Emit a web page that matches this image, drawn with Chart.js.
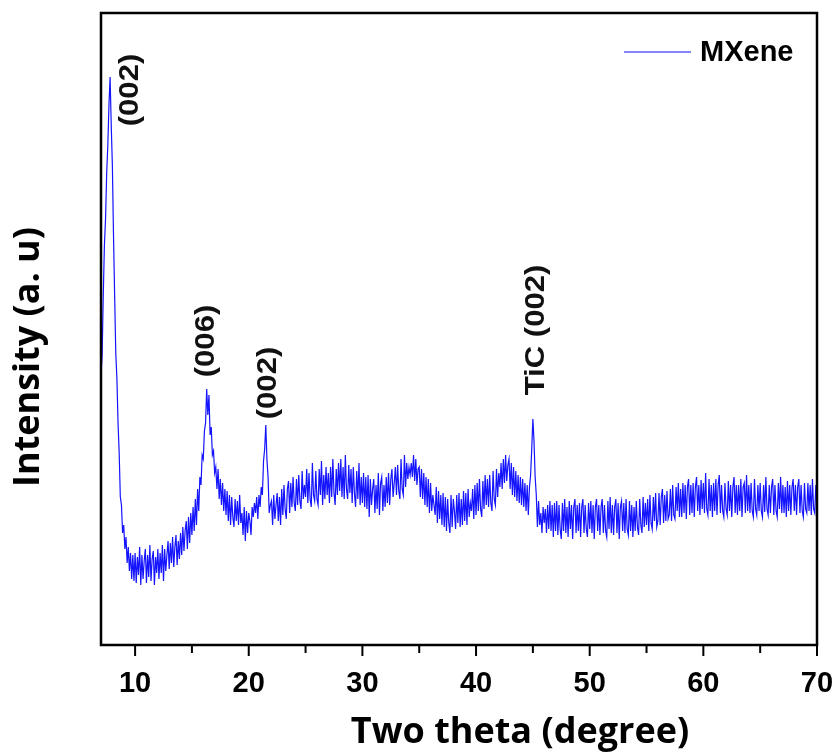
<!DOCTYPE html>
<html>
<head>
<meta charset="utf-8">
<script src="https://cdn.jsdelivr.net/npm/chart.js@4"></script>
<style>
  html, body { margin: 0; padding: 0; background: #fff; }
</style>
</head>
<body>
<canvas id="xrdChart" width="836" height="755"></canvas>
<script>
// XRD pattern, MXene (step 0.1 deg from 7 to 70)
const thetaStart = 7;
const thetaStep = 0.1;
const intensity = [
  270, 290, 350, 400, 426, 472, 500, 540, 568, 520,
  480, 410, 350, 292, 266, 222, 192, 148, 140, 112,
  120, 96, 108, 82, 98, 74, 92, 66, 90, 64,
  92, 62, 88, 70, 98, 60, 90, 66, 84, 96,
  62, 90, 68, 100, 64, 86, 94, 60, 88, 72,
  96, 66, 92, 72, 100, 64, 96, 74, 90, 104,
  76, 102, 82, 108, 78, 98, 110, 80, 104, 86,
  112, 90, 118, 94, 114, 124, 96, 128, 102, 132,
  110, 138, 114, 146, 120, 156, 134, 168, 160, 190,
  186, 214, 222, 256, 230, 250, 210, 218, 190, 194,
  172, 178, 156, 176, 146, 166, 140, 162, 134, 156,
  130, 154, 124, 150, 120, 148, 128, 118, 146, 124,
  144, 120, 150, 122, 132, 110, 138, 104, 134, 112,
  132, 124, 110, 138, 128, 142, 132, 148, 126, 150,
  138, 158, 150, 184, 196, 220, 186, 168, 132, 140,
  144, 120, 150, 126, 140, 152, 124, 148, 120, 156,
  130, 160, 136, 126, 156, 164, 132, 162, 138, 168,
  142, 134, 166, 140, 170, 144, 136, 174, 146, 160,
  148, 176, 142, 172, 146, 138, 182, 150, 144, 174,
  146, 140, 176, 150, 184, 140, 170, 146, 178, 150,
  172, 142, 178, 148, 186, 152, 140, 176, 150, 182,
  154, 186, 148, 178, 146, 190, 156, 146, 180, 152,
  176, 142, 178, 152, 138, 174, 146, 182, 140, 168,
  142, 172, 138, 168, 136, 170, 128, 166, 140, 156,
  166, 132, 160, 136, 172, 130, 162, 168, 134, 160,
  138, 168, 142, 172, 140, 166, 176, 148, 162, 178,
  150, 180, 154, 146, 186, 156, 150, 190, 158, 182,
  166, 178, 170, 182, 168, 190, 164, 186, 160, 176,
  178, 148, 176, 146, 172, 140, 168, 138, 166, 132,
  162, 134, 150, 140, 130, 158, 122, 154, 126, 150,
  120, 152, 118, 148, 114, 146, 122, 112, 150, 118,
  146, 134, 116, 150, 122, 152, 118, 146, 120, 154,
  124, 152, 120, 156, 128, 142, 134, 156, 126, 160,
  130, 162, 134, 166, 136, 128, 164, 136, 170, 140,
  166, 138, 170, 142, 134, 174, 146, 140, 176, 148,
  172, 158, 182, 156, 186, 162, 190, 164, 180, 186,
  156, 182, 150, 178, 148, 174, 144, 170, 142, 168,
  140, 166, 138, 162, 134, 160, 130, 158, 170, 196,
  226, 204, 168, 150, 118, 144, 120, 132, 112, 138,
  122, 136, 112, 140, 116, 144, 114, 140, 108, 142,
  114, 144, 110, 140, 116, 106, 142, 114, 146, 112,
  138, 108, 144, 116, 140, 106, 138, 146, 112, 140,
  114, 142, 108, 138, 146, 112, 140, 116, 108, 142,
  116, 144, 112, 140, 106, 138, 146, 114, 140, 110,
  138, 146, 112, 140, 114, 108, 144, 116, 148, 112,
  140, 110, 138, 146, 112, 142, 106, 138, 144, 114,
  142, 112, 146, 116, 110, 144, 114, 140, 108, 138,
  114, 144, 118, 110, 146, 120, 112, 148, 118, 142,
  120, 146, 114, 150, 122, 116, 148, 124, 152, 118,
  124, 152, 120, 148, 156, 122, 150, 124, 154, 126,
  130, 156, 124, 160, 130, 126, 158, 134, 162, 128,
  156, 128, 162, 132, 160, 126, 158, 166, 130, 160,
  132, 162, 128, 158, 168, 134, 160, 130, 165, 136,
  162, 132, 172, 136, 130, 166, 134, 160, 128, 162,
  134, 166, 130, 160, 170, 132, 160, 134, 128, 162,
  136, 130, 164, 134, 160, 128, 158, 168, 132, 160,
  130, 160, 134, 166, 128, 158, 162, 132, 170, 134,
  160, 132, 162, 134, 128, 166, 136, 130, 160, 134,
  162, 134, 128, 160, 133, 168, 136, 130, 160, 132,
  158, 166, 130, 160, 134, 128, 162, 136, 168, 132,
  160, 132, 158, 128, 164, 134, 160, 130, 158, 166,
  134, 160, 130, 158, 166, 132, 160, 134, 128, 162,
  136, 132, 162, 134, 160, 130, 166, 136, 132, 160,
  146
];

const xTicks = [10, 20, 30, 40, 50, 60, 70];
const minorTicks = [15, 25, 35, 45, 55, 65];

// peak labels: text, two-theta, intensity level of label centre
const peakLabels = ['(002)', '(006)', '(002)', 'TiC (002)'];
const peakTheta = [9.64, 16.33, 21.78, 45.36];
const peakLabelLevel = [555, 304, 262, 315];

const points = intensity.map((v, i) => ({ x: +(thetaStart + i * thetaStep).toFixed(2), y: v }));

const boldSans = '"Liberation Sans", Arial, sans-serif';

const decor = {
  id: 'decor',
  afterDatasetsDraw(chart) {
    const { ctx, chartArea: a, scales: { x, y } } = chart;
    ctx.save();

    // frame
    ctx.strokeStyle = '#000';
    ctx.lineWidth = 2.5;
    ctx.strokeRect(a.left, a.top, a.right - a.left, a.bottom - a.top);

    // tick marks (outside, below)
    ctx.lineWidth = 2;
    ctx.beginPath();
    xTicks.forEach(v => {
      const px = x.getPixelForValue(v);
      ctx.moveTo(px, a.bottom); ctx.lineTo(px, a.bottom + 11);
    });
    minorTicks.forEach(v => {
      const px = x.getPixelForValue(v);
      ctx.moveTo(px, a.bottom); ctx.lineTo(px, a.bottom + 8);
    });
    ctx.stroke();

    // rotated peak labels
    ctx.fillStyle = '#111';
    ctx.font = 'bold 27px ' + boldSans;
    ctx.textAlign = 'center';
    ctx.textBaseline = 'middle';
    peakLabels.forEach((t, i) => {
      ctx.save();
      ctx.translate(x.getPixelForValue(peakTheta[i]), y.getPixelForValue(peakLabelLevel[i]));
      ctx.rotate(-Math.PI / 2);
      ctx.scale(1.15, 1);
      ctx.fillText(t, 0, 0);
      ctx.restore();
    });

    // legend
    ctx.strokeStyle = '#5a5aff';
    ctx.lineWidth = 1.5;
    ctx.beginPath();
    ctx.moveTo(a.right - 193, a.top + 39);
    ctx.lineTo(a.right - 126, a.top + 39);
    ctx.stroke();
    ctx.fillStyle = '#000';
    ctx.font = 'bold 29px ' + boldSans;
    ctx.textAlign = 'left';
    ctx.fillText(chart.data.datasets[0].label, a.right - 117, a.top + 40);

    // axis titles
    ctx.font = 'bold 36px "Open Sans", sans-serif';
    ctx.textAlign = 'center';
    ctx.fillText('Two theta (degree)', 520, 733);
    ctx.save();
    ctx.translate(29, 357);
    ctx.rotate(-Math.PI / 2);
    ctx.fillText('Intensity (a. u)', 0, 0);
    ctx.restore();

    ctx.restore();
  }
};

new Chart(document.getElementById('xrdChart'), {
  type: 'line',
  data: {
    datasets: [{
      label: 'MXene',
      data: points,
      borderColor: '#1414ff',
      borderWidth: 1.2,
      pointRadius: 0,
      tension: 0,
      fill: false
    }]
  },
  options: {
    responsive: false,
    animation: false,
    layout: { padding: { left: 101, right: 19, top: 13, bottom: 0 } },
    plugins: { legend: { display: false }, tooltip: { enabled: false } },
    scales: {
      x: {
        type: 'linear',
        min: 7,
        max: 70,
        afterBuildTicks: s => { s.ticks = xTicks.map(v => ({ value: v })); },
        afterFit: s => { s.height = 110; s.paddingLeft = 0; s.paddingRight = 0; },
        grid: { display: false, drawTicks: false, tickLength: 0 },
        border: { display: false },
        ticks: {
          padding: 22,
          color: '#000',
          maxRotation: 0,
          font: { family: '"Liberation Sans Narrow", "Liberation Sans", Arial, sans-serif', size: 29, weight: 'bold' }
        }
      },
      y: {
        min: 0,
        max: 632,
        display: false
      }
    }
  },
  plugins: [decor]
});
</script>
</body>
</html>
